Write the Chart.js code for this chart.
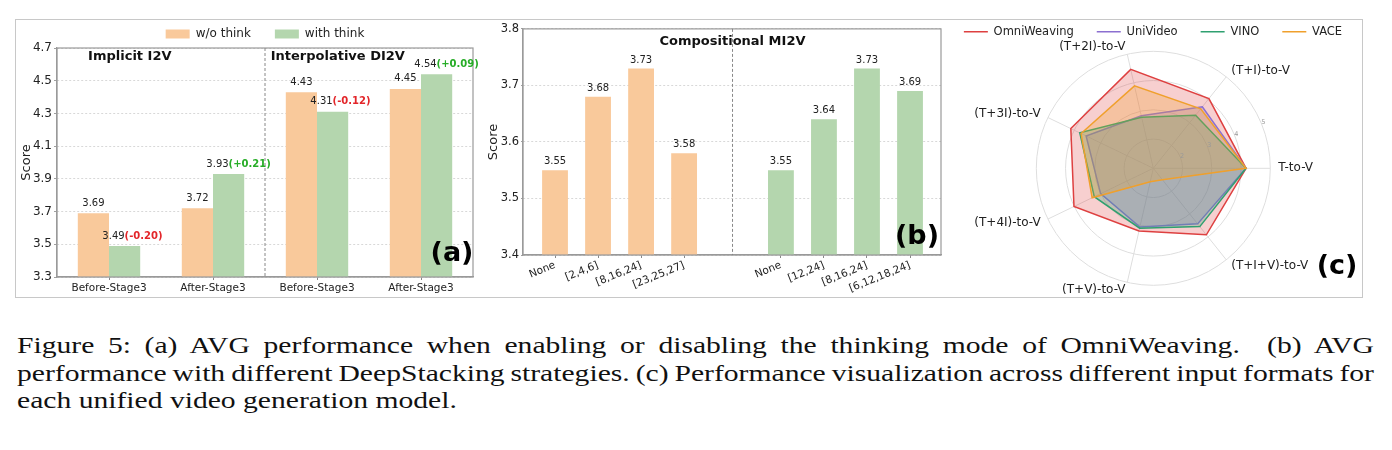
<!DOCTYPE html>
<html>
<head>
<meta charset="utf-8">
<script src="https://cdn.jsdelivr.net/npm/chart.js@4.4.1/dist/chart.umd.min.js"></script>
<style>
html,body{margin:0;padding:0;background:#fff;}
body{width:1392px;height:450px;position:relative;overflow:hidden;}
#frame{position:absolute;left:15px;top:19px;width:1348px;height:279px;box-sizing:border-box;border:1px solid #c8c8c8;}
canvas{position:absolute;}
#caption{position:absolute;left:17px;top:332px;width:1100px;transform:scaleX(1.2336);transform-origin:0 0;font-family:"Liberation Serif";font-size:24px;line-height:27.5px;color:#111;}
.j{text-align:justify;text-align-last:justify;word-spacing:-6px;}
</style>
</head>
<body>
<div id="frame"></div>
<canvas id="ca" width="464" height="293" style="left:16px;top:4px;"></canvas>
<canvas id="cb" width="464" height="277" style="left:486px;top:20px;"></canvas>
<canvas id="cc" width="450" height="294" style="left:928px;top:3px;"></canvas>
<div id="caption">
<div class="j">Figure 5: (a) AVG performance when enabling or disabling the thinking mode of OmniWeaving.&nbsp; (b) AVG</div>
<div class="j">performance with different DeepStacking strategies. (c) Performance visualization across different input formats for</div>
<div>each unified video generation model.</div>
</div>
<script>
// ---------- data ----------
const stagesA = ['Before-Stage3', 'After-Stage3', 'Before-Stage3', 'After-Stage3'];
const woThink = [3.69, 3.72, 4.43, 4.45];
const withThink = [3.49, 3.93, 4.31, 4.54];
const ticksA = [3.3, 3.5, 3.7, 3.9, 4.1, 4.3, 4.5, 4.7];
const groupTitlesA = ['Implicit I2V', 'Interpolative DI2V'];

const layersB1 = ['None', '[2,4,6]', '[8,16,24]', '[23,25,27]'];
const scoresB1 = [3.55, 3.68, 3.73, 3.58];
const layersB2 = ['None', '[12,24]', '[8,16,24]', '[6,12,18,24]'];
const scoresB2 = [3.55, 3.64, 3.73, 3.69];
const ticksB = [3.4, 3.5, 3.6, 3.7, 3.8];
const titleB = 'Compositional MI2V';

const radarAxes = ['T-to-V', '(T+I+V)-to-V', '(T+V)-to-V', '(T+4I)-to-V', '(T+3I)-to-V', '(T+2I)-to-V', '(T+I)-to-V'];
const omniWeaving = [4.17, 3.91, 3.20, 4.01, 4.13, 4.47, 4.05];
const uniVideo    = [4.17, 3.43, 3.06, 3.00, 3.55, 2.84, 3.69];
const vino        = [4.17, 3.55, 3.10, 3.24, 3.79, 2.79, 3.32];
const vace        = [4.17, 1.50, 1.47, 3.32, 3.74, 3.89, 3.60];

// ---------- style ----------
Chart.defaults.font.family = '"DejaVu Sans"';
Chart.defaults.color = '#222';
const C_OR = 'rgb(249,201,155)';
const C_GR = 'rgb(180,214,174)';
const SPINE = '#9a9a9a';
const GRID = '#cfcfcf';

const spines = {
  id: 'spines',
  afterDatasetsDraw(chart) {
    const {ctx, chartArea: a} = chart;
    ctx.save();
    ctx.strokeStyle = SPINE; ctx.lineWidth = 1.2;
    ctx.strokeRect(a.left, a.top, a.width, a.height);
    ctx.restore();
  }
};

// ---------- panel (a) ----------
const labelsA = {
  id: 'labelsA',
  afterDraw(chart) {
    const ctx = chart.ctx, a = chart.chartArea, xs = chart.scales.x, ys = chart.scales.y;
    const m0 = chart.getDatasetMeta(0), m1 = chart.getDatasetMeta(1);
    ctx.save();
    ctx.textBaseline = 'middle';
    m0.data.forEach((bar, i) => {
      ctx.font = '10px "DejaVu Sans"'; ctx.fillStyle = '#222'; ctx.textAlign = 'center';
      ctx.fillText(woThink[i].toFixed(2), bar.x, bar.y - 10);
    });
    m1.data.forEach((bar, i) => {
      const d = withThink[i] - woThink[i];
      ctx.font = '10px "DejaVu Sans"'; ctx.fillStyle = '#222'; ctx.textAlign = 'right';
      ctx.fillText(withThink[i].toFixed(2), bar.x, bar.y - 10);
      ctx.font = 'bold 10px "DejaVu Sans"'; ctx.textAlign = 'left';
      ctx.fillStyle = d < 0 ? '#e3262a' : '#27ad27';
      ctx.fillText('(' + (d > 0 ? '+' : '') + d.toFixed(2) + ')', bar.x, bar.y - 10);
    });
    const sx = (xs.getPixelForValue(1) + xs.getPixelForValue(2)) / 2;
    ctx.setLineDash([3, 2]); ctx.strokeStyle = '#888'; ctx.lineWidth = 1;
    ctx.beginPath(); ctx.moveTo(sx, a.top); ctx.lineTo(sx, a.bottom); ctx.stroke();
    ctx.setLineDash([]);
    ctx.font = 'bold 13px "DejaVu Sans"'; ctx.fillStyle = '#111'; ctx.textAlign = 'center';
    groupTitlesA.forEach((t, k) => ctx.fillText(t, xs.getPixelForValue(2 * k + 0.2), ys.getPixelForValue(4.645)));
    ctx.font = 'bold 27px "DejaVu Sans"'; ctx.fillStyle = '#000';
    ctx.fillText('(a)', a.right - 21, a.bottom - 23);
    ctx.restore();
  }
};

new Chart(document.getElementById('ca'), {
  type: 'bar',
  data: {
    labels: stagesA,
    datasets: [
      {label: 'w/o think', data: woThink, backgroundColor: C_OR, categoryPercentage: 0.6, barPercentage: 1},
      {label: 'with think', data: withThink, backgroundColor: C_GR, categoryPercentage: 0.6, barPercentage: 1}
    ]
  },
  options: {
    responsive: false, animation: false, devicePixelRatio: 1,
    layout: {padding: {left: 0, right: 7, top: 0, bottom: 0}},
    plugins: {
      legend: {position: 'top', fullSize: false, maxHeight: 44,
        labels: {boxWidth: 24, boxHeight: 9, padding: 24, font: {size: 12}, color: '#222'}},
      tooltip: {enabled: false}
    },
    scales: {
      x: {
        grid: {display: true, drawOnChartArea: false, offset: false, tickLength: 3, tickColor: '#888', color: '#888'},
        border: {color: SPINE, width: 1.2},
        ticks: {font: {size: 10.5}, color: '#222', padding: 2, maxRotation: 0, autoSkip: false},
        afterFit: s => { s.height = 20; }
      },
      y: {
        min: 3.3, max: 4.7,
        afterBuildTicks: s => { s.ticks = ticksA.map(v => ({value: v})); },
        ticks: {callback: v => v.toFixed(1), font: {size: 12}, color: '#222', padding: 2},
        grid: {color: GRID, lineWidth: 0.8, tickLength: 3, tickColor: '#888'},
        border: {color: SPINE, width: 1.2, dash: [2, 2]},
        title: {display: true, text: 'Score', font: {size: 13}, color: '#222', padding: {top: 3, bottom: 0}},
        afterFit: s => { s.width = 41; }
      }
    }
  },
  plugins: [spines, labelsA]
});

// ---------- panel (b) ----------
const gapB = 5.25;
const posB1 = layersB1.map((_, i) => i);
const posB2 = layersB2.map((_, i) => i + gapB);
const tickLabelsB = layersB1.concat(layersB2);

const labelsB = {
  id: 'labelsB',
  afterDraw(chart) {
    const ctx = chart.ctx, a = chart.chartArea, xs = chart.scales.x, ys = chart.scales.y;
    ctx.save();
    ctx.textBaseline = 'middle'; ctx.textAlign = 'center';
    ctx.font = '10px "DejaVu Sans"'; ctx.fillStyle = '#222';
    [scoresB1, scoresB2].forEach((vals, di) => {
      chart.getDatasetMeta(di).data.forEach((bar, i) => ctx.fillText(vals[i].toFixed(2), bar.x, bar.y - 8.5));
    });
    const mid = (posB1[posB1.length - 1] + posB2[0]) / 2;
    const sx = xs.getPixelForValue(mid);
    ctx.setLineDash([3, 2]); ctx.strokeStyle = '#888'; ctx.lineWidth = 1;
    ctx.beginPath(); ctx.moveTo(sx, a.top); ctx.lineTo(sx, a.bottom); ctx.stroke();
    ctx.setLineDash([]);
    ctx.font = 'bold 13px "DejaVu Sans"'; ctx.fillStyle = '#111';
    ctx.fillText(titleB, sx, ys.getPixelForValue(3.777));
    ctx.font = 'bold 27px "DejaVu Sans"'; ctx.fillStyle = '#000';
    ctx.fillText('(b)', a.right - 24, a.bottom - 18);
    ctx.restore();
  }
};

new Chart(document.getElementById('cb'), {
  type: 'bar',
  data: {
    datasets: [
      {label: 'A', data: scoresB1.map((v, i) => ({x: posB1[i], y: v})), backgroundColor: C_OR, grouped: false, categoryPercentage: 0.6, barPercentage: 1},
      {label: 'B', data: scoresB2.map((v, i) => ({x: posB2[i], y: v})), backgroundColor: C_GR, grouped: false, categoryPercentage: 0.6, barPercentage: 1}
    ]
  },
  options: {
    responsive: false, animation: false, devicePixelRatio: 1,
    layout: {padding: {left: 0, right: 9, top: 8, bottom: 0}},
    plugins: {legend: {display: false}, tooltip: {enabled: false}},
    scales: {
      x: {
        type: 'linear', min: -0.744, max: 8.97, offset: false,
        afterBuildTicks: s => { s.ticks = posB1.concat(posB2).map(v => ({value: v})); },
        ticks: {callback: (v, i) => tickLabelsB[i], minRotation: 22, maxRotation: 22, autoSkip: false, font: {size: 10.5}, color: '#222', padding: 1},
        grid: {display: true, drawOnChartArea: false, offset: false, tickLength: 3, tickColor: '#888', color: '#888'},
        border: {color: SPINE, width: 1.2},
        afterFit: s => { s.height = 42; }
      },
      y: {
        min: 3.4, max: 3.8,
        afterBuildTicks: s => { s.ticks = ticksB.map(v => ({value: v})); },
        ticks: {callback: v => v.toFixed(1), font: {size: 11.5}, color: '#222', padding: 2},
        grid: {color: GRID, lineWidth: 0.8, tickLength: 2, tickColor: '#888'},
        border: {color: SPINE, width: 1.2, dash: [2, 2]},
        title: {display: true, text: 'Score', font: {size: 13}, color: '#222', padding: {top: 0, bottom: 0}},
        afterFit: s => { s.width = 37; }
      }
    }
  },
  plugins: [spines, labelsB]
});

// ---------- panel (c) ----------
const RC = {x: 225.3, y: 165.3, r: 117};
const radarText = {
  id: 'radarText',
  afterDraw(chart) {
    const ctx = chart.ctx, s = chart.scales.r;
    ctx.save();
    ctx.font = '12px "DejaVu Sans"'; ctx.fillStyle = '#222'; ctx.textBaseline = 'middle';
    radarAxes.forEach((t, i) => {
      const p = s.getPointPosition(i, s.drawingArea + 8);
      const c = Math.cos(p.angle);
      ctx.textAlign = c > 0.01 ? 'left' : (c < -0.01 ? 'right' : 'center');
      ctx.fillText(t, p.x, p.y);
    });
    ctx.font = '6.5px "DejaVu Sans"'; ctx.fillStyle = '#999'; ctx.textAlign = 'center';
    const ang = -22.5 * Math.PI / 180;
    s.ticks.forEach(tk => {
      if (tk.value <= s.min) return;
      const d = s.getDistanceFromCenterForValue(tk.value) + 2;
      ctx.fillText(String(tk.value), s.xCenter + Math.cos(ang) * d, s.yCenter + Math.sin(ang) * d);
    });
    ctx.font = 'bold 27px "DejaVu Sans"'; ctx.fillStyle = '#000';
    ctx.fillText('(c)', 409, 264);
    ctx.restore();
  }
};

const radarSet = (label, data, rgb, alpha, order) => ({
  label, data, order,
  borderColor: 'rgb(' + rgb + ')', backgroundColor: 'rgba(' + rgb + ',' + alpha + ')',
  borderWidth: 1.5, pointRadius: 0, fill: true
});

new Chart(document.getElementById('cc'), {
  type: 'radar',
  data: {
    labels: radarAxes,
    datasets: [
      radarSet('OmniWeaving', omniWeaving, '222,64,64', 0.25, 4),
      radarSet('UniVideo', uniVideo, '139,111,208', 0.28, 3),
      radarSet('VINO', vino, '47,160,112', 0.28, 2),
      radarSet('VACE', vace, '240,160,44', 0.28, 1)
    ]
  },
  options: {
    responsive: false, animation: false, devicePixelRatio: 1,
    elements: {line: {tension: 0}},
    plugins: {
      legend: {position: 'top',
        labels: {usePointStyle: true, pointStyle: 'line', pointStyleWidth: 24, padding: 23, font: {size: 11.5}, color: '#222',
          sort: (a, b) => a.datasetIndex - b.datasetIndex}},
      tooltip: {enabled: false}
    },
    scales: {
      r: {
        min: 1, max: 5, startAngle: 90,
        ticks: {display: false, stepSize: 1},
        pointLabels: {display: false},
        grid: {color: '#dedede', circular: true, lineWidth: 1},
        angleLines: {color: '#dedede', lineWidth: 1},
        afterFit: s => { s.xCenter = RC.x; s.yCenter = RC.y; s.drawingArea = RC.r; }
      }
    }
  },
  plugins: [radarText]
});
</script>
</body>
</html>
